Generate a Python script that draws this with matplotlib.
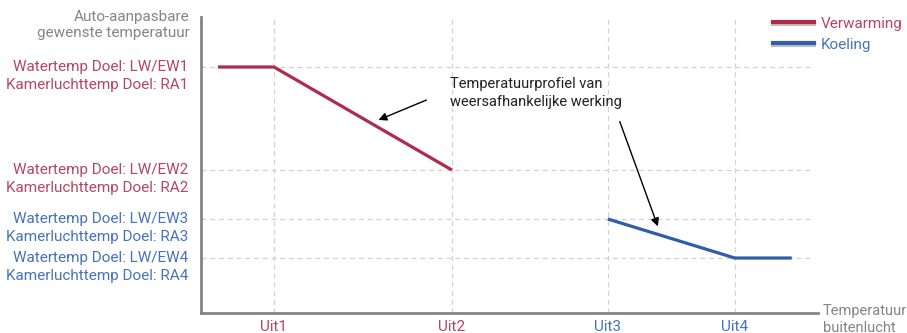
import matplotlib.pyplot as plt
import matplotlib.patheffects as pe
from matplotlib.lines import Line2D
from matplotlib.transforms import blended_transform_factory

plt.rcParams['font.family'] = ['Roboto', 'DejaVu Sans']

RED = '#b02a4c'
RED_TXT = '#b84560'
BLUE = '#2f5ea8'
BLUE_TXT = '#4572bd'
GRAY = '#858585'

# outside temperature points and target levels
x_labels = ['Uit1', 'Uit2', 'Uit3', 'Uit4']
x_pos = [7.3, 25.1, 40.7, 53.4]
x_colors = [RED_TXT, RED_TXT, BLUE_TXT, BLUE_TXT]

levels = [24.6, 14.3, 9.4, 5.5]
level_labels = [
    'Watertemp Doel: LW/EW1\nKamerluchttemp Doel: RA1',
    'Watertemp Doel: LW/EW2\nKamerluchttemp Doel: RA2',
    'Watertemp Doel: LW/EW3\nKamerluchttemp Doel: RA3',
    'Watertemp Doel: LW/EW4\nKamerluchttemp Doel: RA4',
]
level_colors = [RED_TXT, RED_TXT, BLUE_TXT, BLUE_TXT]

heating_x = [1.7, 7.3, 25.1]
heating_y = [24.6, 24.6, 14.3]
cooling_x = [40.7, 53.4, 59.1]
cooling_y = [9.4, 5.5, 5.5]

fig = plt.figure(figsize=(9.07, 3.33), dpi=100)
ax = fig.add_axes([0.2216, 0.060, 0.680, 0.889])
ax.set_xlim(0, 61.7)
ax.set_ylim(0, 29.6)

for x in x_pos:
    ax.axvline(x, color='#d2d2d2', lw=0.9, ls=(0, (4, 3)), zorder=1)
for y in levels:
    ax.axhline(y, xmax=0.992, color='#d2d2d2', lw=0.9, ls=(0, (4, 3)), zorder=1)

ax.plot(heating_x, heating_y, color=RED, lw=2.3, solid_capstyle='butt', zorder=3)
ax.plot(cooling_x, cooling_y, color=BLUE, lw=2.3, solid_capstyle='butt', zorder=3)

for s in ['top', 'right']:
    ax.spines[s].set_visible(False)
for s in ['left', 'bottom']:
    ax.spines[s].set_color(GRAY)
    ax.spines[s].set_linewidth(2)

ax.set_yticks([])
ax.set_xticks(x_pos, labels=x_labels)
ax.tick_params(axis='x', length=0, pad=5, labelsize=11)
for lbl, c in zip(ax.get_xticklabels(), x_colors):
    lbl.set_color(c)

# two-line labels next to the y axis
tr = blended_transform_factory(ax.transAxes, ax.transData)
for y, txt, c in zip(levels, level_labels, level_colors):
    ax.annotate(txt, xy=(0, y), xycoords=tr, xytext=(-9, 4.8), textcoords='offset points',
                ha='right', va='top', fontsize=11, color=c, linespacing=1.35)

fig.text(190 / 907, 1 - 10 / 333, 'Auto-aanpasbare\ngewenste temperatuur', ha='right', va='top',
         fontsize=11, color=GRAY, linespacing=1.2)
fig.text(823 / 907, 1 - 304 / 333, 'Temperatuur\nbuitenlucht', ha='left', va='top',
         fontsize=10.5, color=GRAY, linespacing=1.25)

ax.text(24.9, 23.6, 'Temperatuurprofiel van\nweersafhankelijke werking', ha='left', va='top',
        fontsize=10.5, color='#222222', linespacing=1.35)
ax.annotate('', xy=(17.5, 19.2), xytext=(22.8, 21.4),
            arrowprops=dict(arrowstyle='-|>', color='black', lw=1, mutation_scale=12))
ax.annotate('', xy=(45.8, 8.4), xytext=(41.8, 19.4),
            arrowprops=dict(arrowstyle='-|>', color='black', lw=1, mutation_scale=12))

shadow = [pe.SimpleLineShadow(offset=(0, -1), shadow_color='gray', alpha=0.5), pe.Normal()]
handles = [Line2D([], [], color=RED, lw=3, path_effects=shadow),
           Line2D([], [], color=BLUE, lw=3, path_effects=shadow)]
leg = fig.legend(handles, ['Verwarming', 'Koeling'], loc='upper left',
                 bbox_to_anchor=(759 / 907, 1 - 3 / 333), frameon=False,
                 prop={'size': 11},
                 handlelength=2.7, handletextpad=0.45, labelspacing=0.45)
for t, c in zip(leg.get_texts(), [RED_TXT, BLUE_TXT]):
    t.set_color(c)

fig.savefig('out.png', dpi=100)
